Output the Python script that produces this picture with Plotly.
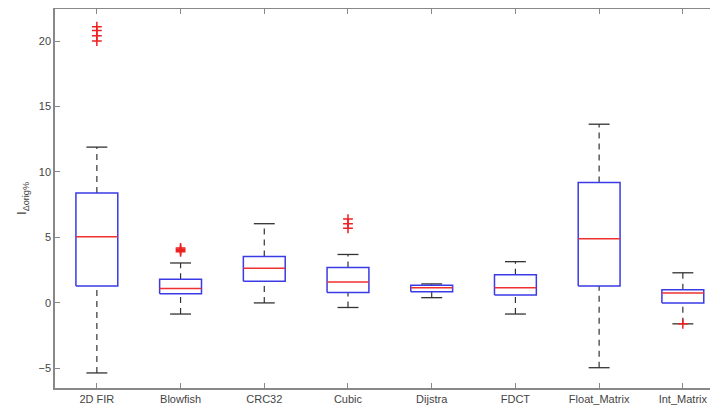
import plotly.graph_objects as go

categories = ["2D FIR", "Blowfish", "CRC32", "Cubic", "Dijstra", "FDCT", "Float_Matrix", "Int_Matrix"]
lower_whisker = [-5.35, -0.85, 0.0, -0.35, 0.4, -0.85, -4.95, -1.6]
q1 = [1.3, 0.7, 1.65, 0.8, 0.85, 0.6, 1.3, 0.0]
median = [5.05, 1.1, 2.65, 1.6, 1.15, 1.15, 4.9, 0.75]
q3 = [8.4, 1.8, 3.55, 2.7, 1.35, 2.15, 9.2, 1.0]
upper_whisker = [11.9, 3.05, 6.05, 3.7, 1.45, 3.15, 13.65, 2.3]
outliers = {
    "2D FIR": [21.1, 20.8, 20.4, 20.0],
    "Blowfish": [4.2, 4.1, 4.0, 3.9],
    "Cubic": [6.4, 6.05, 5.7],
    "Int_Matrix": [-1.6],
}
y_ticks = [-5, 0, 5, 10, 15, 20]

BOX_HALF = 0.25
CAP_HALF = 0.125

pos = list(range(1, len(categories) + 1))

wx, wy, cx, cy, bx, by, mx, my = [], [], [], [], [], [], [], []
for p, lo, a, m, b, hi in zip(pos, lower_whisker, q1, median, q3, upper_whisker):
    wx += [p, p, None, p, p, None]
    wy += [b, hi, None, lo, a, None]
    cx += [p - CAP_HALF, p + CAP_HALF, None, p - CAP_HALF, p + CAP_HALF, None]
    cy += [hi, hi, None, lo, lo, None]
    bx += [p - BOX_HALF, p + BOX_HALF, p + BOX_HALF, p - BOX_HALF, p - BOX_HALF, None]
    by += [a, a, b, b, a, None]
    mx += [p - BOX_HALF, p + BOX_HALF, None]
    my += [m, m, None]

ox, oy = [], []
for name, vals in outliers.items():
    p = pos[categories.index(name)]
    ox += [p] * len(vals)
    oy += vals

fig = go.Figure()
fig.add_trace(go.Scatter(x=wx, y=wy, mode="lines", line=dict(color="#333333", width=1.2, dash="6px,5px"), hoverinfo="skip"))
fig.add_trace(go.Scatter(x=cx, y=cy, mode="lines", line=dict(color="#333333", width=1.3), hoverinfo="skip"))
fig.add_trace(go.Scatter(x=bx, y=by, mode="lines", line=dict(color="#3a3ae6", width=1.5), hoverinfo="skip"))
fig.add_trace(go.Scatter(x=mx, y=my, mode="lines", line=dict(color="#ee3030", width=1.5), hoverinfo="skip"))
fig.add_trace(go.Scatter(x=ox, y=oy, mode="markers",
                         marker=dict(symbol="cross-thin", size=7, line=dict(color="#ee2020", width=1.5)),
                         hoverinfo="skip"))

# page body has an 8px default margin, so the figure is offset by 8px
fig.update_layout(
    width=710, height=401,
    margin=dict(l=47, r=0, t=1, b=21),
    plot_bgcolor="white", paper_bgcolor="white",
    showlegend=False,
    font=dict(family="Liberation Sans, Arial, sans-serif", size=11, color="#444444"),
)
fig.update_xaxes(
    range=[0.5, 8.42], tickvals=pos, ticktext=categories,
    showgrid=False, zeroline=False, showline=True, linecolor="#888888", linewidth=1.5,
    mirror="ticks", ticks="inside", ticklen=5, tickcolor="#888888",
    tickfont=dict(size=11, color="#444444"),
)
fig.update_yaxes(
    range=[-6.5, 22.45], tickvals=y_ticks,
    showgrid=False, zeroline=False, showline=True, linecolor="#888888", linewidth=1.5,
    mirror=False, ticks="inside", ticklen=5, tickcolor="#888888",
    tickfont=dict(size=11, color="#444444"),
    title=dict(text="I<sub>Δorig%</sub>", font=dict(size=13, color="#444444"), standoff=9),
)

fig.write_html("out.html")
